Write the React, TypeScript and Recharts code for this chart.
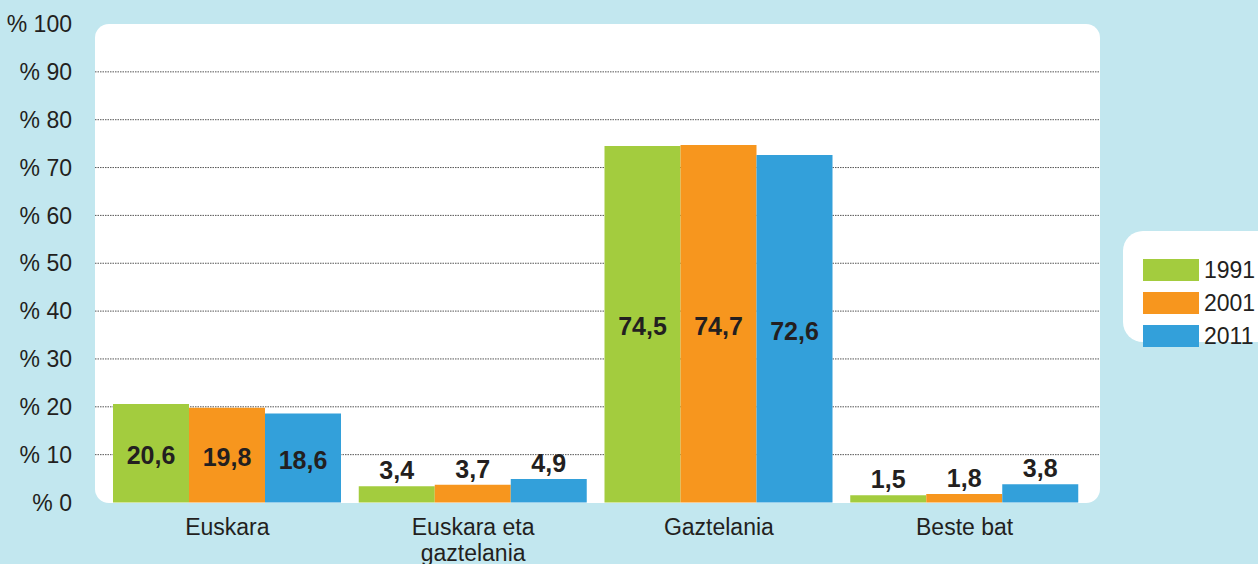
import React from "react";
import {
    Bar,
    BarChart,
    CartesianGrid,
    LabelList,
    Legend,
    XAxis,
    YAxis,
} from "recharts";

const categories = [
    "Euskara",
    "Euskara eta gaztelania",
    "Gaztelania",
    "Beste bat",
];
const values1991 = [20.6, 3.4, 74.5, 1.5];
const values2001 = [19.8, 3.7, 74.7, 1.8];
const values2011 = [18.6, 4.9, 72.6, 3.8];
const yTicks = [0, 10, 20, 30, 40, 50, 60, 70, 80, 90, 100];

const seriesInfo = [
    { key: "y1991", name: "1991", color: "#a3cc3e" },
    { key: "y2001", name: "2001", color: "#f7961e" },
    { key: "y2011", name: "2011", color: "#33a0da" },
];

const FONT = "'Liberation Sans', Arial, Helvetica, sans-serif";
const TEXT = "#231f20";

// Build the rows Recharts wants
const chartData = categories.map((name, i) => ({
    name,
    y1991: values1991[i],
    y2001: values2001[i],
    y2011: values2011[i],
}));

const fmt = (v: number) => v.toFixed(1).replace(".", ",");

// break long category names into lines of ~12 chars
const wrapLabel = (label: string) => {
    const words = label.split(" ");
    const lines: string[] = [];
    let cur = "";
    words.forEach((w) => {
        const next = cur ? cur + " " + w : w;
        if (next.length > 12 && cur) {
            lines.push(cur);
            cur = w;
        } else {
            cur = next;
        }
    });
    if (cur) lines.push(cur);
    return lines;
};

const CategoryTick = (props: any) => {
    const { x, y, payload } = props;
    const lines = wrapLabel(String(payload.value));
    return (
        <text
            x={x}
            y={y + 32}
            textAnchor="middle"
            fontFamily={FONT}
            fontSize={23}
            fill={TEXT}
        >
            {lines.map((line, i) => (
                <tspan key={i} x={x} dy={i === 0 ? 0 : 26}>
                    {line}
                </tspan>
            ))}
        </text>
    );
};

// big bars get the value inside, small bars get it on top
const ValueLabel = (props: any) => {
    const { x, y, width, height, value } = props;
    if (value == null) return null;
    const inside = value > 10;
    const cx = x + width / 2;
    const cy = inside ? y + height / 2 + 11 : y - 7;
    return (
        <text
            x={cx}
            y={cy}
            textAnchor="middle"
            fontFamily={FONT}
            fontSize={25}
            fontWeight="bold"
            fill={TEXT}
        >
            {fmt(value)}
        </text>
    );
};

const LegendBox = () => (
    <div
        style={{
            background: "#ffffff",
            borderRadius: "20px 0 0 20px",
            width: 140,
            height: 111,
            boxSizing: "border-box",
            paddingTop: 28,
            paddingLeft: 20,
        }}
    >
        {seriesInfo.map((s) => (
            <div
                key={s.key}
                style={{
                    display: "flex",
                    alignItems: "center",
                    height: 22,
                    marginBottom: 11,
                }}
            >
                <div
                    style={{
                        width: 56,
                        height: 22,
                        backgroundColor: s.color,
                        marginRight: 5,
                    }}
                />
                <span
                    style={{
                        fontFamily: FONT,
                        fontSize: 23,
                        color: TEXT,
                        lineHeight: "22px",
                    }}
                >
                    {s.name}
                </span>
            </div>
        ))}
    </div>
);

export default function App() {
    return (
        <div
            style={{
                position: "absolute",
                left: 0,
                top: 0,
                width: 1258,
                height: 564,
                background: "#c2e7ef",
                overflow: "hidden",
            }}
        >
            {/* white plot panel */}
            <div
                style={{
                    position: "absolute",
                    left: 95,
                    top: 24,
                    width: 1005,
                    height: 479,
                    background: "#ffffff",
                    borderRadius: 14,
                }}
            />
            <div style={{ position: "absolute", left: 0, top: 0 }}>
                <BarChart
                    width={1258}
                    height={564}
                    data={chartData}
                    margin={{ top: 24, right: 158, bottom: 0, left: 0 }}
                    barCategoryGap={8.5}
                    barGap={0}
                >
                    <CartesianGrid
                        vertical={false}
                        horizontalValues={[10, 20, 30, 40, 50, 60, 70, 80, 90]}
                        stroke="#555"
                        strokeDasharray="1.5 1"
                    />
                    <XAxis
                        dataKey="name"
                        axisLine={false}
                        tickLine={false}
                        tickSize={0}
                        tickMargin={0}
                        height={61.5}
                        padding={{ left: 9.5, right: 12.5 }}
                        interval={0}
                        tick={<CategoryTick />}
                    />
                    <YAxis
                        domain={[0, 100]}
                        ticks={yTicks}
                        width={95}
                        axisLine={false}
                        tickLine={false}
                        tickSize={0}
                        tickMargin={23}
                        tickFormatter={(v) => `% ${v}`}
                        tick={{ fontFamily: FONT, fontSize: 23, fill: TEXT }}
                    />
                    <Legend
                        layout="vertical"
                        align="center"
                        verticalAlign="middle"
                        content={<LegendBox />}
                        wrapperStyle={{ left: 1123, top: 231, width: 140 }}
                    />
                    {seriesInfo.map((s) => (
                        <Bar
                            key={s.key}
                            dataKey={s.key}
                            name={s.name}
                            fill={s.color}
                            isAnimationActive={false}
                        >
                            <LabelList dataKey={s.key} content={<ValueLabel />} />
                        </Bar>
                    ))}
                </BarChart>
            </div>
        </div>
    );
}
